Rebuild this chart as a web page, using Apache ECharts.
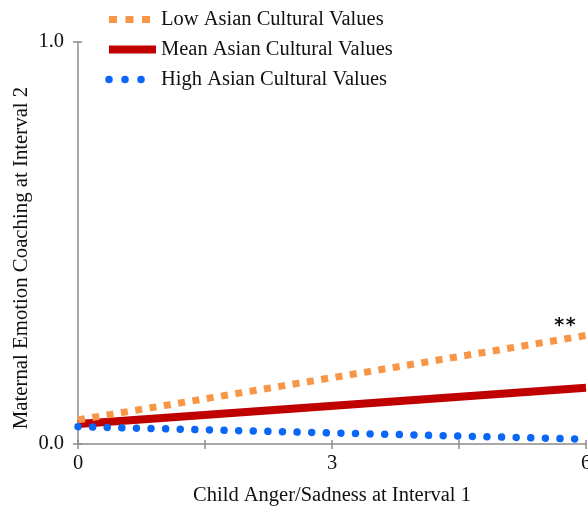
<!DOCTYPE html>
<html>
<head>
<meta charset="utf-8">
<script src="https://cdn.jsdelivr.net/npm/echarts@6/dist/echarts.min.js"></script>
<style>
  html, body { margin: 0; padding: 0; background: #fff; }
  #chart { width: 588px; height: 506px; }
</style>
</head>
<body>
<div id="chart"></div>
<script>
// Simple slopes of maternal emotion coaching on child anger/sadness
const xValues = [0, 6];
const lowValues = [0.06, 0.27];
const meanValues = [0.05, 0.14];
const highValues = [0.043, 0.012];
const seriesNames = ['Low Asian Cultural Values', 'Mean Asian Cultural Values', 'High Asian Cultural Values'];
const xTickLabels = { 0: '0', 3: '3', 6: '6' };
const yTickLabels = { 0: '0.0', 1: '1.0' };
const xTitle = 'Child Anger/Sadness at Interval 1';
const yTitle = 'Maternal Emotion Coaching at Interval 2';
const sigMark = '**';

const FONT = '"Liberation Serif", "Times New Roman", serif';
const TEXT_COLOR = '#111';
const AXIS_COLOR = '#8c8c8c';
const FS = 20.5;

// line looks shared by the plot and the legend
const lowStyle = { color: '#F79646', width: 7, type: [7, 7.5], cap: 'butt' };
const meanStyle = { color: '#C00000', width: 8, type: 'solid' };
const highStyle = { color: '#0A66F5', width: 7.5, type: [0.01, 14.6], cap: 'round' };

function pairs(ys) { return xValues.map((x, i) => [x, ys[i]]); }

const chart = echarts.init(document.getElementById('chart'), null, { renderer: 'canvas' });

const axisCommon = {
  type: 'value',
  splitLine: { show: false }
};

chart.setOption({
  animation: false,
  backgroundColor: '#ffffff',
  grid: { left: 78, right: 2, top: 42, bottom: 62, containLabel: false, outerBoundsMode: 'none' },
  legend: {
    orient: 'vertical',
    left: 100,
    top: 4,
    itemGap: 9,
    itemWidth: 47,
    itemHeight: 8,
    itemStyle: { opacity: 0 },
    textStyle: { fontFamily: FONT, fontSize: FS, color: TEXT_COLOR },
    data: [
      { name: seriesNames[0], lineStyle: Object.assign({}, lowStyle, { type: [8, 8.5] }) },
      { name: seriesNames[1], lineStyle: meanStyle },
      { name: seriesNames[2], lineStyle: Object.assign({}, highStyle, { type: [0.01, 16] }) }
    ]
  },
  xAxis: [
    Object.assign({}, axisCommon, {
      min: 0, max: 6, interval: 1.5,
      name: xTitle,
      nameLocation: 'middle',
      nameGap: 41,
      nameMoveOverlap: false,
      nameTextStyle: { fontFamily: FONT, fontSize: FS, color: TEXT_COLOR },
      axisLine: { show: true, lineStyle: { color: AXIS_COLOR, width: 1.5 } },
      axisTick: { show: true, inside: false, length: 5, lineStyle: { color: AXIS_COLOR, width: 1.5 } },
      axisLabel: {
        fontFamily: FONT, fontSize: FS, color: TEXT_COLOR, margin: 9,
        formatter: v => xTickLabels[v] !== undefined ? xTickLabels[v] : ''
      }
    }),
    Object.assign({}, axisCommon, {
      min: 0, max: 6, interval: 1.5, position: 'bottom', offset: 0,
      axisLine: { show: false },
      axisTick: { show: true, inside: true, length: 4, lineStyle: { color: AXIS_COLOR, width: 1.5 } },
      axisLabel: { show: false }
    })
  ],
  yAxis: [
    Object.assign({}, axisCommon, {
      min: 0, max: 1, interval: 1,
      name: yTitle,
      nameLocation: 'middle',
      nameGap: 46,
      nameMoveOverlap: false,
      nameRotate: 90,
      nameTextStyle: { fontFamily: FONT, fontSize: 20.8, color: TEXT_COLOR, padding: [0, 30, 0, 0] },
      axisLine: { show: true, lineStyle: { color: AXIS_COLOR, width: 1.5 } },
      axisTick: { show: true, inside: false, length: 5, lineStyle: { color: AXIS_COLOR, width: 1.5 } },
      axisLabel: {
        fontFamily: FONT, fontSize: FS, color: TEXT_COLOR, margin: 14,
        formatter: v => yTickLabels[v] !== undefined ? yTickLabels[v] : ''
      }
    }),
    Object.assign({}, axisCommon, {
      min: 0, max: 1, interval: 1, position: 'left',
      axisLine: { show: false },
      axisTick: { show: true, inside: true, length: 4, lineStyle: { color: AXIS_COLOR, width: 1.5 } },
      axisLabel: { show: false }
    })
  ],
  series: [
    {
      name: seriesNames[0],
      type: 'line',
      data: pairs(lowValues),
      showSymbol: false,
      symbol: 'none',
      color: lowStyle.color,
      lineStyle: lowStyle,
      markPoint: {
        symbol: 'circle', symbolSize: 0,
        data: [{ coord: [xValues[1], lowValues[1]] }],
        label: {
          show: true, formatter: sigMark, position: 'top',
          offset: [-21, 5],
          fontFamily: '"DejaVu Sans Mono", monospace', fontWeight: 'bold', fontSize: 19, color: '#111'
        }
      },
      z: 3
    },
    {
      name: seriesNames[1],
      type: 'line',
      data: pairs(meanValues),
      showSymbol: false,
      symbol: 'none',
      color: meanStyle.color,
      lineStyle: meanStyle,
      z: 2
    },
    {
      name: seriesNames[2],
      type: 'line',
      data: pairs(highValues),
      showSymbol: false,
      symbol: 'none',
      color: highStyle.color,
      lineStyle: highStyle,
      z: 4
    }
  ]
});
</script>
</body>
</html>
